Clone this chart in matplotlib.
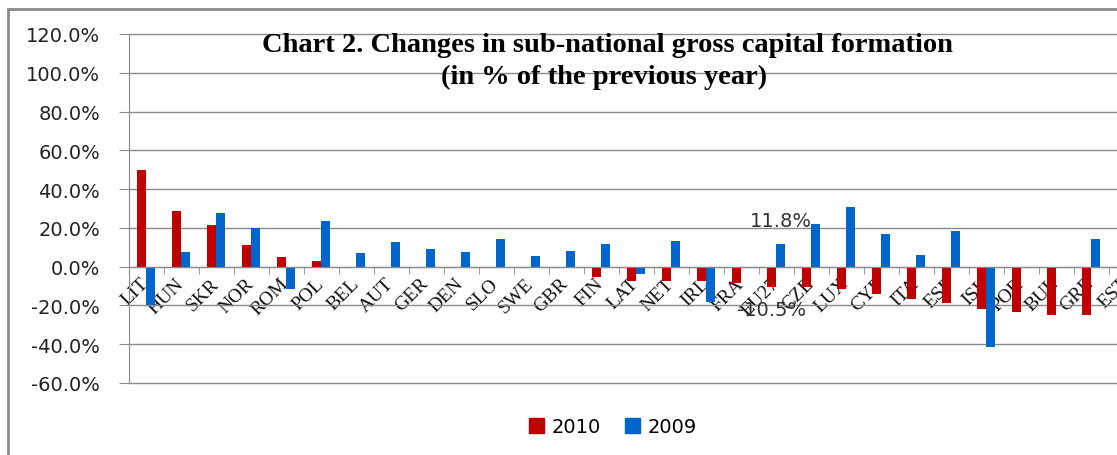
import numpy as np
import matplotlib
matplotlib.use('Agg')
import matplotlib.pyplot as plt
from matplotlib.patches import Rectangle, Patch

# data (values in %)
countries = ['LIT', 'HUN', 'SKR', 'NOR', 'ROM', 'POL', 'BEL', 'AUT', 'GER', 'DEN',
             'SLO', 'SWE', 'GBR', 'FIN', 'LAT', 'NET', 'IRL', 'FRA', 'EU27', 'CZE',
             'LUX', 'CYP', 'ITA', 'ESP', 'ISL', 'POR', 'BUL', 'GRE', 'EST']
v2010 = [50.0, 28.5, 21.5, 11.0, 4.8, 3.1, 0.0, 0.0, 0.0, 0.0,
         0.0, 0.0, 0.0, -5.5, -7.2, -7.2, -7.2, -8.2, -10.5, -10.7,
         -11.3, -14.1, -16.8, -18.6, -21.6, -23.4, -25.1, -25.1, np.nan]
v2009 = [-20.0, 7.6, 27.8, 19.9, -11.7, 23.4, 7.0, 12.7, 8.9, 7.6,
         14.1, 5.5, 8.2, 11.7, -3.8, 13.0, -18.2, 0.0, 11.8, 22.0,
         30.6, 16.8, 5.8, 18.6, -41.6, 0.0, 0.0, 14.4, np.nan]
series_names = ['2010', '2009']
labelled = 'EU27'

red = '#C00000'
blue = '#0066CC'
gray = '#8a8a8a'

W, H = 1117, 456
fig = plt.figure(figsize=(W / 100, H / 100), dpi=100)
fig.patch.set_facecolor('white')

# outer chart border (cut off on the right and bottom)
fig.patches.append(Rectangle((8 / W, -0.1), 1.2, 1 - 10 / H + 0.1, transform=fig.transFigure,
                             fill=False, edgecolor=gray, lw=2))

ax = fig.add_axes([128.5 / W, 1 - 384 / H, 1015 / W, (384 - 35) / H])
x = np.arange(len(countries))
w = 0.27
ax.bar(x - w / 2, v2010, w, color=red, zorder=3)
ax.bar(x + w / 2, v2009, w, color=blue, zorder=3)

ax.set_xlim(-0.5, len(countries) - 0.5)
ax.set_ylim(-60, 120)
ax.set_yticks(np.arange(-60, 121, 20))
ax.set_yticklabels(['{:.1f}%'.format(t) for t in np.arange(-60, 121, 20)],
                   fontsize=14, color='#222222', family='DejaVu Sans')
ax.yaxis.grid(True, color=gray, lw=1)
for gl in ax.get_ygridlines():
    gl.set_clip_on(False)
ax.set_axisbelow(True)

for s in ['top', 'right']:
    ax.spines[s].set_visible(False)
ax.spines['left'].set_color(gray)
ax.spines['bottom'].set_color(gray)
ax.spines['bottom'].set_position(('data', 0))
ax.spines['bottom'].set_zorder(4)

ax.set_xticks(x)
ax.set_xticklabels(countries, rotation=45, ha='right', va='center', rotation_mode='anchor',
                   fontsize=14, family='Liberation Serif', color='#111111')
ax.set_xticks(np.arange(-0.5, len(countries), 1), minor=True)
ax.tick_params(axis='x', which='major', length=0, pad=10)
ax.tick_params(axis='x', which='minor', length=5, color=gray)
ax.tick_params(axis='y', length=7, color=gray, pad=13.5)

# data labels for EU27
i = countries.index(labelled)
ax.annotate('{:.1f}%'.format(v2009[i]), xy=(i + w / 2, v2009[i]), xytext=(0, 16.5),
            textcoords='offset points', ha='center', va='center', fontsize=14,
            family='DejaVu Sans', color='#333333', zorder=5)
ax.annotate('{:.1f}%'.format(v2010[i]), xy=(i - w / 2, v2010[i]), xytext=(0, -16.5),
            textcoords='offset points', ha='center', va='center', fontsize=14,
            family='DejaVu Sans', color='#333333', zorder=5)

fig.text(607 / W, 1 - 52 / H, 'Chart 2. Changes in sub-national gross capital formation',
         ha='center', va='baseline', fontsize=20.5, fontweight='bold', family='Liberation Serif')
fig.text(604 / W, 1 - 84 / H, '(in % of the previous year)',
         ha='center', va='baseline', fontsize=20.5, fontweight='bold', family='Liberation Serif')

handles = [Patch(color=red), Patch(color=blue)]
fig.legend(handles, series_names, loc='center', bbox_to_anchor=(613 / W, 1 - 428 / H), ncol=2,
           frameon=False, handlelength=0.8, handleheight=0.8, handletextpad=0.4,
           columnspacing=1.2, prop={'family': 'DejaVu Sans', 'size': 14})

fig.savefig('out.png', dpi=100)
